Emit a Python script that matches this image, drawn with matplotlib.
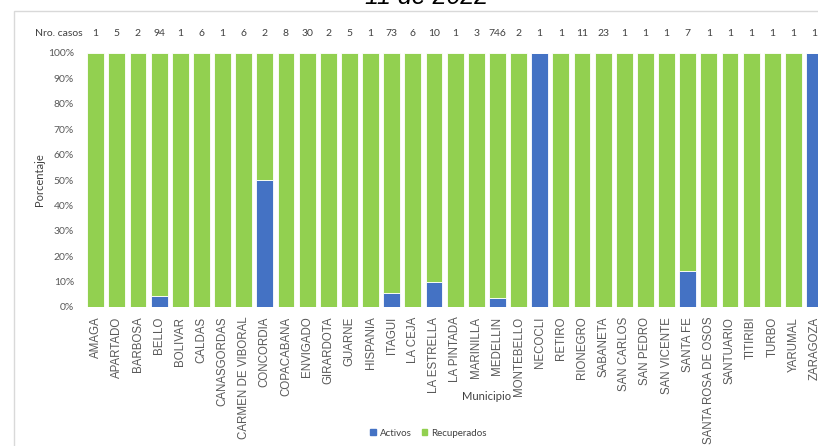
import matplotlib
matplotlib.use("Agg")
import matplotlib.pyplot as plt
from matplotlib.patches import Rectangle, Patch
from matplotlib.transforms import blended_transform_factory

municipios = ["AMAGA", "APARTADO", "BARBOSA", "BELLO", "BOLIVAR", "CALDAS",
              "CANASGORDAS", "CARMEN DE VIBORAL", "CONCORDIA", "COPACABANA",
              "ENVIGADO", "GIRARDOTA", "GUARNE", "HISPANIA", "ITAGUI", "LA CEJA",
              "LA ESTRELLA", "LA PINTADA", "MARINILLA", "MEDELLIN", "MONTEBELLO",
              "NECOCLI", "RETIRO", "RIONEGRO", "SABANETA", "SAN CARLOS",
              "SAN PEDRO", "SAN VICENTE", "SANTA FE", "SANTA ROSA DE OSOS",
              "SANTUARIO", "TITIRIBI", "TURBO", "YARUMAL", "ZARAGOZA"]
casos = [1, 5, 2, 94, 1, 6, 1, 6, 2, 8, 30, 2, 5, 1, 73, 6, 10, 1, 3, 746, 2,
         1, 1, 11, 23, 1, 1, 1, 7, 1, 1, 1, 1, 1, 1]
activos = [0, 0, 0, 4.3, 0, 0, 0, 0, 50, 0, 0, 0, 0, 0, 5.5, 0, 10, 0, 0, 3.6, 0,
           100, 0, 0, 0, 0, 0, 0, 14.3, 0, 0, 0, 0, 0, 100]
recuperados = [100, 100, 100, 95.7, 100, 100, 100, 100, 50, 100, 100, 100, 100,
               100, 94.5, 100, 90, 100, 100, 96.4, 100, 0, 100, 100, 100, 100,
               100, 100, 85.7, 100, 100, 100, 100, 100, 0]

c_act = "#4472C4"
c_rec = "#92D050"
calibri = ["Lato", "DejaVu Sans"]
arial = ["Liberation Sans", "DejaVu Sans"]

W, H = 818, 446
fig = plt.figure(figsize=(W / 100, H / 100), dpi=100)
fig.patch.set_facecolor("white")

# chart border (partially cropped)
fig.patches.append(Rectangle((14 / W, -0.1), 1.0, 1 - 10.7 / H + 0.1,
                             transform=fig.transFigure, fill=False,
                             edgecolor="#d9d9d9", lw=1.0))

# cropped title
fig.text(427 / W, 1 - 4 / H, "11 de 2022", ha="center", va="baseline",
         fontsize=18, style="italic", family=arial, color="#000000")

ax = fig.add_axes([85.1 / W, (H - 307) / H, 740 / W, 254 / H])
x = list(range(len(municipios)))
ax.bar(x, activos, width=0.8, color=c_act, edgecolor="white", lw=0.6,
       label="Activos")
ax.bar(x, recuperados, bottom=activos, width=0.8, color=c_rec,
       edgecolor="white", lw=0.6, label="Recuperados")
ax.set_xlim(-0.5, len(municipios) - 0.5)
ax.set_ylim(0, 100)
for s in ax.spines.values():
    s.set_visible(False)
ax.set_yticks(range(0, 101, 10))
ax.set_yticklabels([f"{v}%" for v in range(0, 101, 10)])
ax.tick_params(axis="y", length=0, pad=8, labelsize=7.5, labelcolor="#595959")
for lab in ax.get_yticklabels():
    lab.set_family(calibri)
ax.set_xticks(x)
ax.set_xticklabels(municipios, rotation=90, va="top", ha="center")
ax.tick_params(axis="x", length=0, pad=7, labelsize=8.3, labelcolor="#595959")
for lab in ax.get_xticklabels():
    lab.set_family(arial)

ax.set_ylabel("Porcentaje", fontsize=8, family=calibri, color="#404040")
ax.yaxis.set_label_coords((40 - 85.1) / 740, 0.5)
ax.yaxis.label.set_va("center")

tr = blended_transform_factory(ax.transData, fig.transFigure)
for xi, n in zip(x, casos):
    ax.text(xi, 1 - 34 / H, str(n), transform=tr, ha="center", va="center",
            fontsize=7.5, family=calibri, color="#404040", clip_on=False)
fig.text(83 / W, 1 - 34 / H, "Nro. casos", ha="right", va="center",
         fontsize=7.5, family=calibri, color="#404040")

fig.text(487 / W, 1 - 397 / H, "Municipio", ha="center", va="center",
         fontsize=8, family=calibri, color="#404040")

handles = [Patch(color=c_act, label="Activos"),
           Patch(color=c_rec, label="Recuperados")]
fig.legend(handles=handles, loc="center", bbox_to_anchor=(428.5 / W, 13 / H),
           ncol=2, frameon=False, handlelength=0.6, handleheight=0.6,
           handletextpad=0.4, columnspacing=1.0,
           prop={"family": calibri, "size": 7})
for t in fig.legends[0].get_texts():
    t.set_color("#404040")

fig.savefig("out.png", dpi=100)
